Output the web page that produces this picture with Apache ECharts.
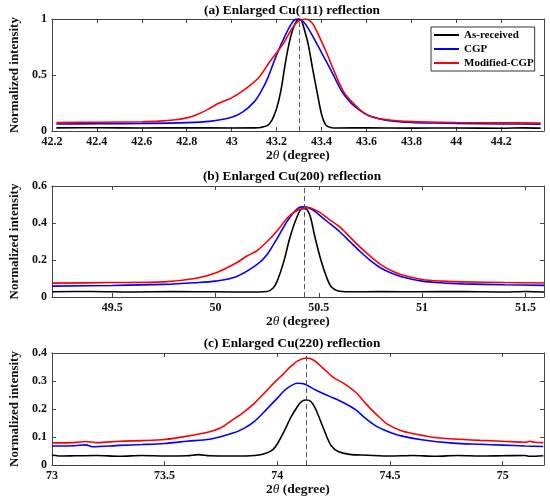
<!DOCTYPE html>
<html>
<head>
<meta charset="utf-8">
<script src="https://cdn.jsdelivr.net/npm/echarts@6/dist/echarts.min.js"></script>
<style>
  html, body { margin: 0; padding: 0; background: #fff; }
  #main { width: 550px; height: 502px; }
</style>
</head>
<body>
<div id="main"></div>
<script>
// series names
var seriesNames = ['As-received', 'CGP', 'Modified-CGP'];
var seriesColors = ['#000000', '#0000ff', '#ff0000'];

// (a) Cu(111) -- [2theta, intensity]
var asReceived111 = [[42.22,0.028],[42.4,0.029],[42.6,0.027],[42.8,0.028],[43.0,0.027],[43.1,0.028],[43.13,0.032],[43.16,0.05],[43.18,0.1],[43.2,0.2],[43.22,0.37],[43.24,0.62],[43.26,0.82],[43.28,0.95],[43.3,1.0],[43.31,0.99],[43.32,0.93],[43.34,0.78],[43.36,0.56],[43.38,0.35],[43.4,0.15],[43.42,0.05],[43.44,0.032],[43.47,0.027],[43.6,0.028],[43.8,0.026],[44.0,0.027],[44.2,0.025],[44.3,0.028],[44.375,0.026]];
var cgp111 = [[42.22,0.062],[42.4,0.065],[42.6,0.068],[42.8,0.075],[42.9,0.086],[43.0,0.122],[43.05,0.17],[43.1,0.26],[43.13,0.35],[43.16,0.47],[43.2,0.68],[43.24,0.86],[43.27,0.97],[43.29,1.0],[43.31,0.99],[43.33,0.95],[43.36,0.85],[43.4,0.7],[43.45,0.51],[43.49,0.355],[43.52,0.275],[43.55,0.215],[43.6,0.147],[43.65,0.112],[43.7,0.093],[43.8,0.077],[43.9,0.071],[44.0,0.067],[44.2,0.063],[44.375,0.061]];
var mcgp111 = [[42.22,0.075],[42.4,0.078],[42.6,0.083],[42.68,0.088],[42.75,0.1],[42.8,0.117],[42.85,0.15],[42.9,0.2],[42.94,0.245],[43.0,0.296],[43.06,0.374],[43.12,0.475],[43.17,0.62],[43.23,0.78],[43.27,0.92],[43.3,0.985],[43.33,1.0],[43.36,0.96],[43.38,0.885],[43.42,0.71],[43.46,0.515],[43.5,0.345],[43.55,0.23],[43.59,0.16],[43.63,0.122],[43.7,0.098],[43.8,0.084],[44.0,0.076],[44.2,0.073],[44.375,0.072]];

// (b) Cu(200)
var asReceived200 = [[49.21,0.028],[49.4,0.03],[49.6,0.027],[49.8,0.029],[50.0,0.028],[50.15,0.027],[50.25,0.03],[50.28,0.05],[50.3,0.09],[50.33,0.19],[50.36,0.32],[50.39,0.42],[50.42,0.478],[50.44,0.475],[50.46,0.43],[50.48,0.33],[50.51,0.2],[50.54,0.1],[50.56,0.055],[50.59,0.034],[50.65,0.028],[50.8,0.029],[51.0,0.028],[51.2,0.03],[51.4,0.027],[51.5,0.03],[51.59,0.027]];
var cgp200 = [[49.21,0.059],[49.5,0.062],[49.75,0.068],[49.9,0.077],[50.0,0.086],[50.1,0.11],[50.2,0.175],[50.25,0.23],[50.3,0.32],[50.35,0.415],[50.4,0.48],[50.43,0.487],[50.47,0.472],[50.5,0.445],[50.55,0.4],[50.6,0.354],[50.65,0.3],[50.7,0.246],[50.75,0.197],[50.8,0.157],[50.85,0.13],[50.9,0.11],[51.0,0.086],[51.1,0.076],[51.2,0.071],[51.4,0.066],[51.59,0.063]];
var mcgp200 = [[49.21,0.075],[49.5,0.078],[49.75,0.082],[49.9,0.1],[50.0,0.13],[50.1,0.184],[50.15,0.22],[50.2,0.25],[50.25,0.3],[50.3,0.36],[50.35,0.43],[50.4,0.47],[50.45,0.484],[50.5,0.46],[50.55,0.42],[50.6,0.38],[50.65,0.325],[50.7,0.27],[50.75,0.22],[50.8,0.175],[50.85,0.143],[50.9,0.12],[51.0,0.095],[51.1,0.086],[51.2,0.082],[51.4,0.078],[51.59,0.076]];

// (c) Cu(220)
var asReceived220 = [[73.0,0.035],[73.05,0.032],[73.1,0.033],[73.2,0.034],[73.3,0.031],[73.4,0.034],[73.5,0.032],[73.6,0.033],[73.65,0.037],[73.7,0.033],[73.8,0.032],[73.9,0.034],[73.95,0.042],[73.98,0.055],[74.0,0.075],[74.03,0.12],[74.06,0.17],[74.09,0.21],[74.11,0.228],[74.13,0.232],[74.15,0.226],[74.17,0.2],[74.2,0.14],[74.22,0.1],[74.24,0.068],[74.27,0.048],[74.32,0.038],[74.4,0.035],[74.5,0.032],[74.6,0.034],[74.7,0.031],[74.8,0.034],[74.9,0.032],[75.0,0.033],[75.1,0.034],[75.12,0.031],[75.18,0.033]];
var cgp220 = [[73.0,0.068],[73.1,0.069],[73.15,0.072],[73.18,0.065],[73.3,0.07],[73.4,0.073],[73.5,0.077],[73.6,0.085],[73.7,0.092],[73.8,0.113],[73.85,0.13],[73.9,0.157],[73.95,0.197],[74.0,0.239],[74.04,0.272],[74.09,0.292],[74.12,0.289],[74.17,0.268],[74.23,0.246],[74.29,0.224],[74.35,0.196],[74.39,0.167],[74.44,0.138],[74.49,0.12],[74.55,0.104],[74.64,0.09],[74.78,0.078],[74.9,0.074],[75.0,0.071],[75.1,0.068],[75.18,0.066]];
var mcgp220 = [[73.0,0.079],[73.1,0.08],[73.15,0.084],[73.2,0.08],[73.3,0.085],[73.4,0.087],[73.5,0.091],[73.6,0.103],[73.7,0.119],[73.75,0.133],[73.8,0.16],[73.85,0.188],[73.9,0.222],[73.96,0.272],[74.0,0.305],[74.03,0.328],[74.06,0.352],[74.09,0.372],[74.13,0.382],[74.16,0.375],[74.2,0.348],[74.25,0.312],[74.3,0.289],[74.35,0.258],[74.39,0.221],[74.44,0.18],[74.49,0.145],[74.55,0.122],[74.61,0.111],[74.68,0.1],[74.78,0.093],[74.9,0.088],[75.0,0.085],[75.1,0.081],[75.12,0.085],[75.14,0.081],[75.18,0.08]];

// axis ranges and ticks
var panelTitles = ['(a) Enlarged Cu(111) reflection', '(b) Enlarged Cu(200) reflection', '(c) Enlarged Cu(220) reflection'];
var xRanges = [[42.2, 44.39], [49.208, 51.59], [73, 75.183]];
var xTicks = [
  [42.2, 42.4, 42.6, 42.8, 43, 43.2, 43.4, 43.6, 43.8, 44, 44.2],
  [49.5, 50, 50.5, 51, 51.5],
  [73, 73.5, 74, 74.5, 75]
];
var yMax = [1, 0.6, 0.4];
var yStep = [0.5, 0.2, 0.1];
var peakPos = [43.3, 50.43, 74.13];
var panelData = [
  [asReceived111, cgp111, mcgp111],
  [asReceived200, cgp200, mcgp200],
  [asReceived220, cgp220, mcgp220]
];

var FONT = '"Liberation Serif", "Times New Roman", serif';
var gridTops = [19, 186, 353];
var gridHeights = [112, 111, 112];
var titleTops = [4, 170.5, 337.5];

var grids = [], xAxes = [], yAxes = [], titles = [], series = [];

for (var p = 0; p < 3; p++) {
  grids.push({ left: 40, right: 6, top: gridTops[p], height: gridHeights[p], containLabel: false });
  titles.push({
    text: panelTitles[p], left: 292, top: titleTops[p], textAlign: 'center', padding: 0,
    textStyle: { fontFamily: FONT, fontWeight: 'bold', fontSize: 13.3, color: '#000' }
  });
  // bottom axis
  xAxes.push({
    type: 'value', gridIndex: p, position: 'bottom', min: xRanges[p][0], max: xRanges[p][1],
    axisLine: { show: true, onZero: false, lineStyle: { color: '#444', width: 1 } },
    axisTick: { show: true, inside: true, length: 4, customValues: xTicks[p], lineStyle: { color: '#444' } },
    axisLabel: { show: true, margin: 5, customValues: xTicks[p], fontFamily: FONT, fontWeight: 'bold', fontSize: 12, color: '#111' },
    splitLine: { show: false },
    name: '{n|2}{i|θ}{n| (degree)}', nameLocation: 'middle', nameGap: 17,
    nameTextStyle: {
      rich: {
        n: { fontFamily: FONT, fontWeight: 'bold', fontSize: 13.5, color: '#111' },
        i: { fontFamily: FONT, fontStyle: 'italic', fontSize: 13.5, color: '#111' }
      }
    }
  });
  // top mirror axis
  xAxes.push({
    type: 'value', gridIndex: p, position: 'top', min: xRanges[p][0], max: xRanges[p][1],
    axisLine: { show: true, onZero: false, lineStyle: { color: '#444', width: 1 } },
    axisTick: { show: true, inside: true, length: 4, customValues: xTicks[p], lineStyle: { color: '#444' } },
    axisLabel: { show: false },
    splitLine: { show: false }
  });
  // left axis
  yAxes.push({
    type: 'value', gridIndex: p, position: 'left', min: 0, max: yMax[p], interval: yStep[p],
    axisLine: { show: true, onZero: false, lineStyle: { color: '#444', width: 1 } },
    axisTick: { show: true, inside: true, length: 4, lineStyle: { color: '#444' } },
    axisLabel: { margin: 5, fontFamily: FONT, fontWeight: 'bold', fontSize: 12, color: '#111' },
    splitLine: { show: false },
    name: 'Normalized intensity', nameLocation: 'middle', nameGap: 23,
    nameTextStyle: { fontFamily: FONT, fontWeight: 'bold', fontSize: 13, color: '#111' }
  });
  // right mirror axis
  yAxes.push({
    type: 'value', gridIndex: p, position: 'right', min: 0, max: yMax[p], interval: yStep[p],
    axisLine: { show: true, onZero: false, lineStyle: { color: '#444', width: 1 } },
    axisTick: { show: true, inside: true, length: 4, lineStyle: { color: '#444' } },
    axisLabel: { show: false },
    splitLine: { show: false }
  });

  for (var s = 0; s < 3; s++) {
    var item = {
      name: seriesNames[s], type: 'line', xAxisIndex: p * 2, yAxisIndex: p * 2,
      data: panelData[p][s], symbol: 'none', smooth: 0.3, animation: false,
      lineStyle: { color: seriesColors[s], width: 1.6 },
      itemStyle: { color: seriesColors[s] }
    };
    if (s === 0) {
      item.markLine = {
        silent: true, symbol: ['none', 'none'], animation: false,
        label: { show: false },
        lineStyle: { type: [5, 3], color: '#555', width: 1 },
        data: [{ xAxis: peakPos[p] }]
      };
    }
    series.push(item);
  }
}

var myChart = echarts.init(document.getElementById('main'));
var option = {
  backgroundColor: '#fff',
  animation: false,
  title: titles,
  legend: {
    data: seriesNames, orient: 'vertical', left: 431, top: 27,
    icon: 'rect', itemWidth: 25, itemHeight: 2, itemGap: 2, padding: [2, 1, 2, 3],
    backgroundColor: '#fff', borderColor: '#333', borderWidth: 1, borderRadius: 0,
    textStyle: { fontFamily: FONT, fontWeight: 'bold', fontSize: 11, color: '#000', lineHeight: 12 }
  },
  grid: grids,
  xAxis: xAxes,
  yAxis: yAxes,
  series: series
};
myChart.setOption(option, true);
</script>
</body>
</html>
